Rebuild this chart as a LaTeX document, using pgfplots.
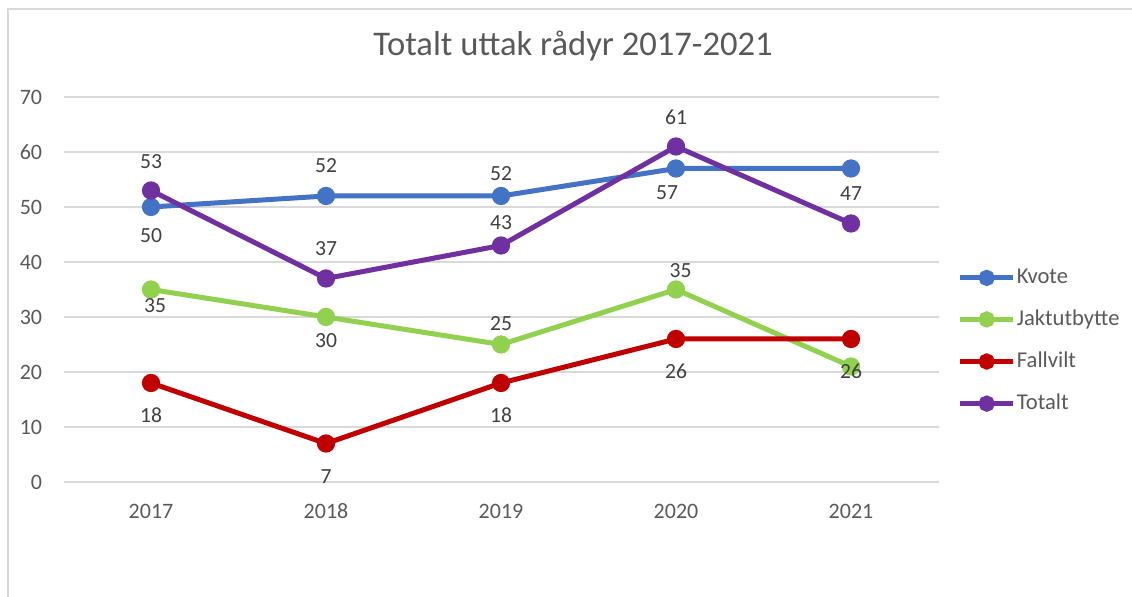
\documentclass[border=0pt]{standalone}
\usepackage{fontspec}
\setmainfont{Carlito}
\usepackage{pgfplots}
\usepackage{pgfplotstable}
\pgfplotsset{compat=1.18}

\definecolor{kvote}{HTML}{4472C4}
\definecolor{jakt}{HTML}{92D050}
\definecolor{fallvilt}{HTML}{C00000}
\definecolor{totalt}{HTML}{7030A0}
\definecolor{gridgray}{HTML}{D9D9D9}
\definecolor{txt}{HTML}{595959}
\definecolor{lbl}{HTML}{404040}

% data label tables: value plus label offset (pt)
\pgfplotstableread{
x y dx dy
2017 50 0 -14.2
2018 52 0 15.2
2019 52 0 11.4
2020 57 -4.5 -12
}\kvotelab
\pgfplotstableread{
x y dx dy
2017 35 2 -7.9
2018 30 0 -11.9
2019 25 0 10.7
2020 35 2.3 9.4
}\jaktlab
\pgfplotstableread{
x y dx dy
2017 18 0 -16.2
2018 7 0 -16.7
2019 18 0 -16.2
2020 26 0 -16.3
2021 26 0 -16.3
}\fallviltlab
\pgfplotstableread{
x y dx dy
2017 53 0 14.7
2018 37 0 14.9
2019 43 0 11.7
2020 61 0 14.7
2021 47 0 15
}\totaltlab

\pgfplotsset{
  /pgf/number format/assume math mode=true,
  /pgf/number format/1000 sep={},
  serie/.style={line width=2.5pt, mark=*, mark size=3.3pt, mark options={solid}},
  lab/.style={draw=none, mark=none, forget plot, nodes near coords,
    visualization depends on={\thisrow{dx} \as \dx},
    visualization depends on={\thisrow{dy} \as \dy},
    every node near coord/.append style={anchor=center, xshift=\dx pt, yshift=\dy pt,
      text=lbl, font=\fontsize{10.8}{13}\selectfont}},
}

\begin{document}
\begin{tikzpicture}
\useasboundingbox (0,0) rectangle (566pt,298.5pt);
\draw[gridgray, line width=0.75pt] (4pt,0) -- (4pt,294pt) -- (566pt,294pt);
\node[font=\fontsize{17.3}{20}\selectfont, text=txt] at (286.5pt,275.5pt) {Totalt uttak rådyr 2017-2021};

\begin{axis}[
  at={(31.75pt,57.5pt)}, anchor=south west,
  scale only axis, width=437.5pt, height=192.5pt,
  xmin=2016.5, xmax=2021.5, ymin=0, ymax=70,
  xtick={2017,2018,2019,2020,2021}, ytick={0,10,...,70},
  axis line style={draw=none},
  ymajorgrids, grid style={gridgray, line width=0.75pt},
  major tick length=0pt,
  clip=false,
  ticklabel style={font=\fontsize{11}{13}\selectfont, text=txt},
  xticklabel style={anchor=center, yshift=-14.5pt},
  yticklabel style={anchor=east, inner sep=0pt, xshift=-10.5pt},
  legend style={at={(1.0215,0.366)}, anchor=west, draw=none, fill=none,
    font=\fontsize{11.3}{13}\selectfont, text=txt, row sep=10.5pt,
    inner sep=0pt, nodes={inner sep=0.6pt}},
  legend cell align=left,
  legend image code/.code={\draw[mark repeat=2, mark phase=2, #1, mark size=2.8pt]
    plot coordinates {(0pt,0pt) (13.25pt,0pt) (26.5pt,0pt)};},
]
\addplot[serie, kvote] coordinates {(2017,50) (2018,52) (2019,52) (2020,57) (2021,57)};
\addlegendentry{Kvote}
\addplot[serie, jakt] coordinates {(2017,35) (2018,30) (2019,25) (2020,35) (2021,21)};
\addlegendentry{Jaktutbytte}
\addplot[serie, fallvilt] coordinates {(2017,18) (2018,7) (2019,18) (2020,26) (2021,26)};
\addlegendentry{Fallvilt}
\addplot[serie, totalt] coordinates {(2017,53) (2018,37) (2019,43) (2020,61) (2021,47)};
\addlegendentry{Totalt}

% data labels
\addplot[lab] table[x=x, y=y] {\kvotelab};
\addplot[lab] table[x=x, y=y] {\jaktlab};
\addplot[lab] table[x=x, y=y] {\fallviltlab};
\addplot[lab] table[x=x, y=y] {\totaltlab};
\end{axis}
\end{tikzpicture}
\end{document}
